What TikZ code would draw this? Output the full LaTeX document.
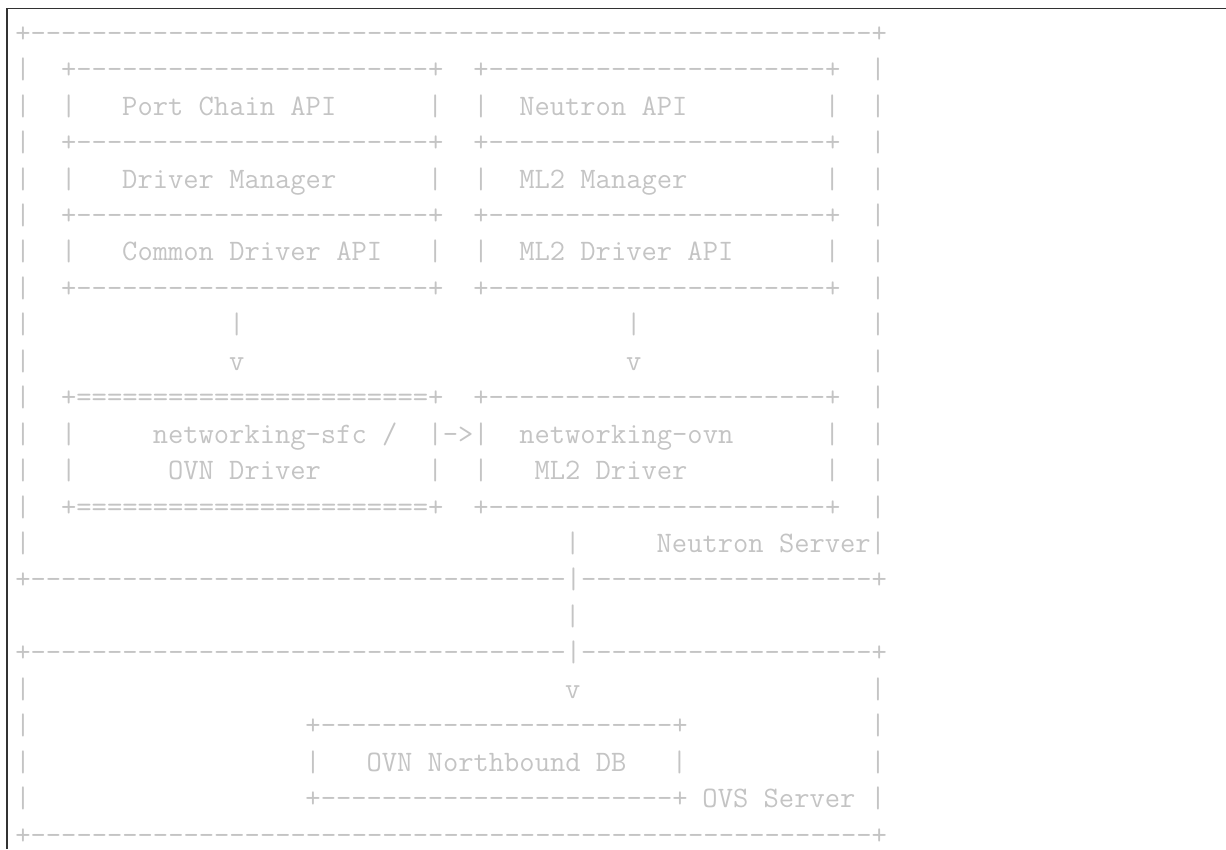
\documentclass[tikz,border=0pt]{standalone}
\usepackage{tikz}

\definecolor{asciigray}{RGB}{196,196,196}
\definecolor{framegray}{RGB}{50,50,50}
\newcommand{\asciirep}[2]{\foreach\k in {1,...,#1}{#2}}

\begin{document}
\begin{tikzpicture}[x=0.75pt, y=-0.75pt]
        % Define styles
        \tikzset{
            ascii/.style={font=\fontsize{22.27pt}{27pt}\selectfont\ttfamily, text=asciigray, inner sep=0pt, anchor=base west},
            shotframe/.style={draw=framegray, line width=1.1pt}
        }
        \useasboundingbox (0,0) rectangle (1226,849);

        % Frame
        \coordinate (frame_bl) at (7,849);
        \coordinate (frame_tl) at (7,8.5);
        \coordinate (frame_tr) at (1226,8.5);
        \draw[shotframe] (frame_bl) -- (frame_tl) -- (frame_tr);

        \begin{scope}[shift={(15.07,5.75)}, x=11.4525pt, y=-27.3375pt]
        % Neutron server border
        \node[ascii] (server_top) at (0,1) {+\asciirep{55}{-}+};
        \foreach \r in {2,...,15} {
            \node[ascii] (server_l\r) at (0,\r) {|};
            \node[ascii] (server_r\r) at (56,\r) {|};
        }
        \node[ascii] (server_bottom) at (0,16) {+\asciirep{35}{-}|\asciirep{19}{-}+};

        % API boxes
        \foreach \r in {2,4,6,8} {
            \node[ascii] (sfc_line\r) at (3,\r) {+\asciirep{23}{-}+};
            \node[ascii] (ml2_line\r) at (30,\r) {+\asciirep{22}{-}+};
        }
        \foreach \r in {3,5,7,12,13} {
            \foreach \c in {3,27,30,53} {
                \node[ascii] (bar\r_\c) at (\c,\r) {|};
            }
        }
        \node[ascii] (port_chain_api) at (7,3) {Port Chain API};
        \node[ascii] (neutron_api) at (33,3) {Neutron API};
        \node[ascii] (driver_manager) at (7,5) {Driver Manager};
        \node[ascii] (ml2_manager) at (33,5) {ML2 Manager};
        \node[ascii] (common_api) at (7,7) {Common Driver API};
        \node[ascii] (ml2_api) at (33,7) {ML2 Driver API};

        % Down arrows
        \node[ascii] (sfc_stem) at (14,9) {|};
        \node[ascii] (ml2_stem) at (40,9) {|};
        \node[ascii] (sfc_head) at (14,10) {v};
        \node[ascii] (ml2_head) at (40,10) {v};

        % Driver boxes
        \foreach \r in {11,14} {
            \node[ascii] (sfc_drv_line\r) at (3,\r) {+\asciirep{23}{=}+};
            \node[ascii] (ovn_drv_line\r) at (30,\r) {+\asciirep{22}{-}+};
        }
        \node[ascii] (sfc_driver) at (9,12) {networking-sfc /};
        \node[ascii] (sfc_driver_b) at (10,13) {OVN Driver};
        \node[ascii] (calls) at (28,12) {->};
        \node[ascii] (ovn_driver) at (33,12) {networking-ovn};
        \node[ascii] (ovn_driver_b) at (34,13) {ML2 Driver};

        % Link to the OVS server
        \node[ascii] (link_a) at (36,15) {|};
        \node[ascii] (neutron_server) at (42,15) {Neutron Server};
        \node[ascii] (link_b) at (36,17) {|};

        % OVS server border
        \node[ascii] (ovs_top) at (0,18) {+\asciirep{35}{-}|\asciirep{19}{-}+};
        \foreach \r in {19,...,22} {
            \node[ascii] (ovs_l\r) at (0,\r) {|};
            \node[ascii] (ovs_r\r) at (56,\r) {|};
        }
        \node[ascii] (link_head) at (36,19) {v};
        \node[ascii] (nb_top) at (19,20) {+\asciirep{23}{-}+};
        \node[ascii] (nb_l) at (19,21) {|};
        \node[ascii] (nb_db) at (23,21) {OVN Northbound DB};
        \node[ascii] (nb_r) at (43,21) {|};
        \node[ascii] (nb_bottom) at (19,22) {+\asciirep{23}{-}+};
        \node[ascii] (ovs_server) at (45,22) {OVS Server};
        \node[ascii] (ovs_bottom) at (0,23) {+\asciirep{55}{-}+};
        \end{scope}
    \end{tikzpicture}
\end{document}
